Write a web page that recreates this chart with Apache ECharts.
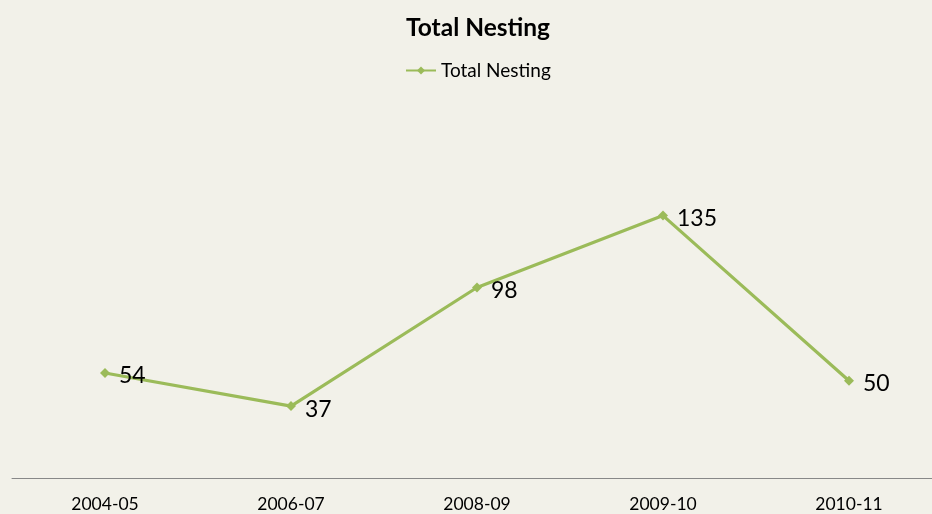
<!DOCTYPE html>
<html><head><meta charset="utf-8">
<script src="https://cdn.jsdelivr.net/npm/echarts@6/dist/echarts.min.js"></script>
<style>html,body{margin:0;padding:0;background:#f2f1e9;overflow:hidden;}#c{width:942px;height:514px;}</style>
</head><body><div id="c"></div>
<script>
var categories = ['2004-05', '2006-07', '2008-09', '2009-10', '2010-11'];
var totalNesting = [54, 37, 98, 135, 50];
var seriesName = 'Total Nesting';
var titleText = 'Total Nesting';

var chart = echarts.init(document.getElementById('c'), null, {renderer: 'canvas'});
var font = 'Lato, "Open Sans", sans-serif';
chart.setOption({
  backgroundColor: '#f2f1e9',
  animation: false,
  title: {text: titleText, left: 401, top: 11, padding: 5,
    textStyle: {fontFamily: font, fontSize: 24.5, fontWeight: 'bold', color: '#000'}},
  legend: {data: [seriesName], top: 56, left: 400, itemWidth: 30, itemHeight: 10,
    itemGap: 4, padding: 5,
    textStyle: {fontFamily: font, fontSize: 19, color: '#000'}},
  grid: {left: 12, right: 0, top: 167, bottom: 36, containLabel: false},
  xAxis: {type: 'category', data: categories, boundaryGap: true,
    axisLine: {lineStyle: {color: '#888', width: 1}}, axisTick: {show: false},
    axisLabel: {fontFamily: font, fontSize: 17.5, color: '#000', margin: 17}},
  yAxis: {type: 'value', min: 0, max: 160, interval: 20, show: false, splitLine: {show: false}},
  series: [{name: seriesName, type: 'line', data: totalNesting,
    symbol: 'diamond', symbolSize: 10, showAllSymbol: true,
    lineStyle: {color: '#9bbb59', width: 3.2}, itemStyle: {color: '#9bbb59'},
    label: {show: true, position: 'right', distance: 9, offset: [0, 3],
      fontFamily: font, fontSize: 23, color: '#000'}}]
});
</script></body></html>
